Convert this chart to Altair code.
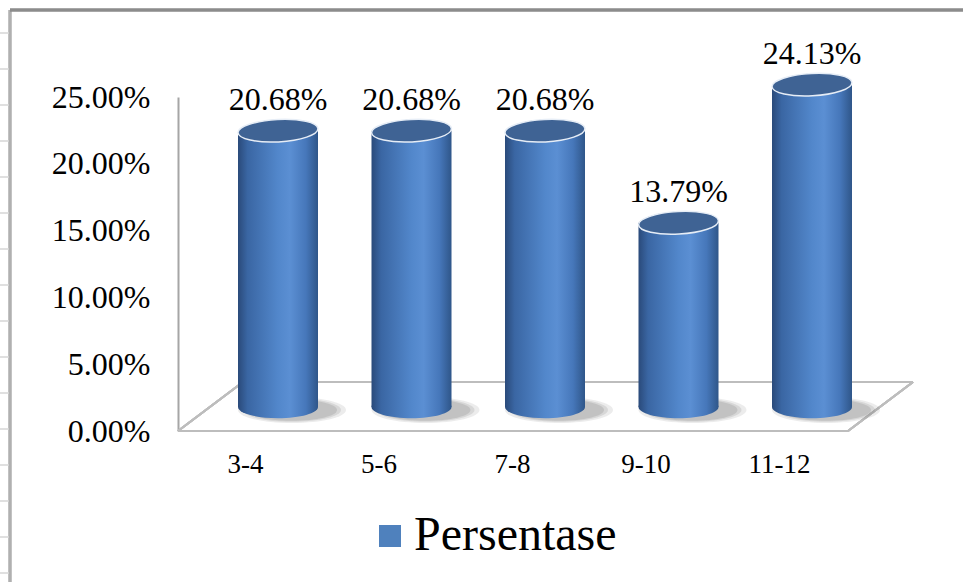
import altair as alt
import pandas as pd

categories = ["3-4", "5-6", "7-8", "9-10", "11-12"]
values = [20.68, 20.68, 20.68, 13.79, 24.13]
labels = ["20.68%", "20.68%", "20.68%", "13.79%", "24.13%"]
y_ticks = [0, 5, 10, 15, 20, 25]
series_name = "Persentase"

df = pd.DataFrame({"category": categories, "value": values, "label": labels})
df["zero"] = 0
df["series"] = series_name

FONT = "Liberation Serif"
DEPTH = -24  # 3D depth shift of the bars behind the axis plane

yscale = alt.Scale(domain=[0, 25], range=[431, 97], nice=False, zero=True)
yaxis = alt.Axis(
    values=y_ticks, labelExpr="format(datum.value, '.2f') + '%'", title=None,
    orient="left", offset=-178, ticks=False, tickSize=0, grid=False,
    domainColor="#a6a6a6", domainWidth=2, labelPadding=28,
    labelFont=FONT, labelFontSize=32, labelColor="#000000",
)
xscale = alt.Scale(type="point", domain=categories, range=[278, 812], padding=0)
xaxis = alt.Axis(
    title=None, orient="bottom", offset=-151, domain=False, ticks=False, tickSize=0,
    grid=False, labelPadding=20, labelOffset=-33, labelAngle=0,
    labelFont=FONT, labelFontSize=27, labelColor="#000000",
)

X = alt.X("category:N", scale=xscale, axis=xaxis, sort=categories)
Y = alt.Y("value:Q", scale=yscale, axis=yaxis)
Y0 = alt.Y("zero:Q", scale=yscale, axis=yaxis)

base = alt.Chart(df)

k = 0.5523
def ellipse(r):
    rk = round(r * k, 4)
    return (f"M-1,0 C-1,{-rk} {-k},{-r} 0,{-r} C{k},{-r} 1,{-rk} 1,0 "
            f"C1,{rk} {k},{r} 0,{r} C{-k},{r} -1,{rk} -1,0 Z")

ELL = ellipse(0.28)
SH = ellipse(0.24)

grad = {
    "gradient": "linear", "x1": 0, "x2": 1, "y1": 0, "y2": 0,
    "stops": [
        {"offset": 0, "color": "#2a4a7a"},
        {"offset": 0.12, "color": "#3a66a3"},
        {"offset": 0.5, "color": "#5287cb"},
        {"offset": 0.65, "color": "#5b8fd3"},
        {"offset": 0.85, "color": "#4677ba"},
        {"offset": 1, "color": "#2f5689"},
    ],
}

# frame and decorations
frame_left = base.mark_rule(color="#b0b0b0", strokeWidth=2.5).encode(
    x=alt.value(10), y=alt.value(10), y2=alt.value(582))
frame_top = base.mark_rule(color="#8c8c8c", strokeWidth=2.5).encode(
    x=alt.value(10), x2=alt.value(963), y=alt.value(10))
side_ticks = alt.Chart(alt.sequence(start=33, stop=582, step=36, as_="t")).mark_rule(
    color="#d6d6d6", strokeWidth=1.5).encode(
    x=alt.value(0), x2=alt.value(9), y=alt.Y("t:Q", scale=None))

floor_style = dict(color="#bdbdbd", strokeWidth=2)
floor = [
    base.mark_rule(**floor_style).encode(x=alt.value(243), x2=alt.value(913), y=alt.value(382), y2=alt.value(382)),
    base.mark_rule(**floor_style).encode(x=alt.value(178), x2=alt.value(243), y=alt.value(431), y2=alt.value(382)),
    base.mark_rule(**floor_style).encode(x=alt.value(848), x2=alt.value(913), y=alt.value(431), y2=alt.value(382)),
    base.mark_rule(**floor_style).encode(x=alt.value(178), x2=alt.value(848), y=alt.value(431), y2=alt.value(431)),
]

shadows = [
    base.mark_point(shape=SH, filled=True, fill="#7a7a7a", opacity=op, size=s,
                    xOffset=14, yOffset=DEPTH + 3, strokeWidth=0).encode(x=X, y=Y0)
    for s, op in [(108 ** 2, 0.14), (98 ** 2, 0.18), (90 ** 2, 0.22)]
]

bottom = base.mark_point(shape=ELL, filled=True, fill=grad, opacity=1, size=80 ** 2,
                         yOffset=DEPTH, strokeWidth=0).encode(x=X, y=Y0)
body = base.mark_bar(size=80, fill=grad, yOffset=DEPTH, y2Offset=DEPTH).encode(x=X, y=Y)
top = base.mark_point(shape=ELL, filled=True, fill="#3f6394", opacity=1, size=80 ** 2,
                      stroke="#e6edf6", strokeWidth=1.5, angle=357,
                      yOffset=DEPTH).encode(x=X, y=Y)
text = base.mark_text(font=FONT, fontSize=32, color="#000000", baseline="middle",
                      yOffset=DEPTH - 31).encode(x=X, y=Y, text="label:N")

legend_layer = base.mark_point(shape="square", filled=True, opacity=0).encode(
    x=X, y=Y,
    color=alt.Color("series:N", scale=alt.Scale(domain=[series_name], range=["#4f81bd"]),
                    legend=alt.Legend(
                        title=None, orient="none", legendX=366, legendY=512, padding=0,
                        symbolType="square", symbolSize=484, symbolOpacity=1,
                        symbolStrokeWidth=0, labelFont=FONT, labelFontSize=48,
                        labelColor="#000000", labelOffset=0, labelLimit=400)),
)

chart = alt.layer(
    frame_left, frame_top, side_ticks, *floor, *shadows, bottom, body, top, text, legend_layer
).properties(
    width=963, height=582, padding=0,
    autosize=alt.AutoSizeParams(type="none"),
    background="#ffffff",
).configure_view(stroke=None)

chart.save("out.html", embed_options={"renderer": "svg", "actions": False})
